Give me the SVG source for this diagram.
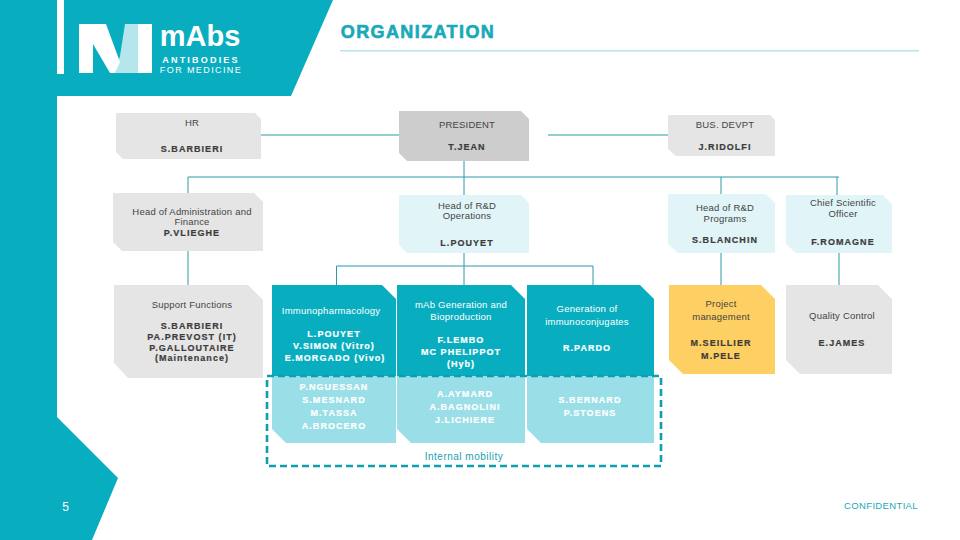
<svg xmlns="http://www.w3.org/2000/svg" width="960" height="540" viewBox="0 0 960 540">
<style>
text{font-family:"Liberation Sans",Arial,sans-serif;text-anchor:middle}
.l{font-size:9.5px;fill:#444;letter-spacing:.2px}
.n{font-size:9px;font-weight:700;fill:#3c3c3c;letter-spacing:1.05px;stroke:#3c3c3c;stroke-width:.2px}
.w{font-size:9.5px;fill:#fff;letter-spacing:.25px}
.nw{font-size:9px;font-weight:700;fill:#fff;letter-spacing:1.05px;stroke:#fff;stroke-width:.2px}
.g{fill:#e5e5e5}.d{fill:#cecdce}.p{fill:#e1f4f7}.t{fill:#08aec0}.a{fill:#9adfe7}.y{fill:#fecf63}
#connectors path{fill:none;stroke:#2a9aa6;stroke-width:1}
</style>
<rect width="960" height="540" fill="#fff"/>
<g id="background">
<path d="M0 0H333L291 96H57V417L118 478L92 540H0Z" fill="#08aec0"/>
<rect x="57" y="0" width="7" height="74" fill="#fff"/>
<rect x="340" y="50" width="579" height="1.5" fill="#b5e6ec"/>
</g>
<g id="logo">
<path d="M125 24H138V73H115L120 56Z" fill="#b5e6ec"/>
<path d="M79 24H106L120 62L115 73H110L93 44V73H79Z" fill="#fff"/>
<rect x="138" y="24" width="14" height="49" fill="#fff"/>
<text x="200" y="46" style="font-size:29px;font-weight:700;fill:#fff">mAbs</text>
<text x="201" y="63" style="font-size:9px;font-weight:700;fill:#fff;letter-spacing:2.2px">ANTIBODIES</text>
<text x="201" y="73" style="font-size:9px;fill:#fff;letter-spacing:1.4px">FOR MEDICINE</text>
</g>
<text id="title" x="418" y="38" style="font-size:18px;font-weight:700;fill:#19a9b9;stroke:#19a9b9;stroke-width:.6px;letter-spacing:1.4px">ORGANIZATION</text>
<g id="connectors">
<path d="M260 135H400M548 135H668M464 160V195M188 177H839M188 177V193M721 177V195M837 177V195M188 251V285M464 252V285M336.500 266H593M336.500 266V285M593 266V285M721 253V285M839 252V285"/>
</g>
<g id="hr"><path class="g" d="M116 113H255L261 119V159H123L116 152Z"/><text class="l" x="192" y="125.500">HR</text><text class="n" x="192" y="151.500">S.BARBIERI</text></g>
<g id="president"><path class="d" d="M399 111H521L529 119V161H407L399 153Z"/><text class="l" x="467" y="127.500">PRESIDENT</text><text class="n" x="467" y="149.500">T.JEAN</text></g>
<g id="busdevpt"><path class="g" d="M668 115H770L775 120V156H676L668 149Z"/><text class="l" x="725" y="127.500">BUS. DEVPT</text><text class="n" x="725" y="149.500">J.RIDOLFI</text></g>
<g id="admin"><path class="g" d="M113 193H254L263 202V251H122L113 242Z"/><text class="l" x="192" y="214.500">Head of Administration and</text><text class="l" x="192" y="224.500">Finance</text><text class="n" x="192" y="235.500">P.VLIEGHE</text></g>
<g id="rdops"><path class="p" d="M399 195H521L529 203V253H407L399 245Z"/><text class="l" x="467" y="208.500">Head of R&amp;D</text><text class="l" x="467" y="218.500">Operations</text><text class="n" x="467" y="245.500">L.POUYET</text></g>
<g id="rdprog"><path class="p" d="M668 194H766L775 203V253H678L668 244Z"/><text class="l" x="725" y="210.500">Head of R&amp;D</text><text class="l" x="725" y="221.500">Programs</text><text class="n" x="725" y="242.500">S.BLANCHIN</text></g>
<g id="cso"><path class="p" d="M786 195H883L892 204V253H796L786 244Z"/><text class="l" x="843" y="205.500">Chief Scientific</text><text class="l" x="843" y="216.500">Officer</text><text class="n" x="843" y="244.500">F.ROMAGNE</text></g>
<g id="support"><path class="g" d="M114 285H248L263 300V378H128L114 363Z"/><text class="l" x="192" y="307.500">Support Functions</text><text class="n" x="192" y="329">S.BARBIERI</text><text class="n" x="192" y="339.500">PA.PREVOST (IT)</text><text class="n" x="192" y="350.500">P.GALLOUTAIRE</text><text class="n" x="192" y="360.500">(Maintenance)</text></g>
<g id="immuno"><path class="t" d="M272 285H382L396 299V376H272Z"/><path class="a" d="M272 376H396V443H286L272 429Z"/><text class="w" x="331" y="313.500">Immunopharmacology</text><text class="nw" x="334" y="336.500">L.POUYET</text><text class="nw" x="334" y="348.500">V.SIMON (Vitro)</text><text class="nw" x="335" y="360.500">E.MORGADO (Vivo)</text><text class="nw" x="334" y="389.500">P.NGUESSAN</text><text class="nw" x="334" y="402.500">S.MESNARD</text><text class="nw" x="334" y="415.500">M.TASSA</text><text class="nw" x="334" y="428.500">A.BROCERO</text></g>
<g id="mabgen"><path class="t" d="M397 285H511L525 299V376H397Z"/><path class="a" d="M397 376H525V443H411L397 429Z"/><text class="w" x="461" y="307.500">mAb Generation and</text><text class="w" x="461" y="319.500">Bioproduction</text><text class="nw" x="461" y="342.500">F.LEMBO</text><text class="nw" x="461" y="354.500">MC PHELIPPOT</text><text class="nw" x="461" y="366.500">(Hyb)</text><text class="nw" x="465" y="396.500">A.AYMARD</text><text class="nw" x="465" y="409.500">A.BAGNOLINI</text><text class="nw" x="465" y="422.500">J.LICHIERE</text></g>
<g id="conj"><path class="t" d="M527 285H640L654 299V376H527Z"/><path class="a" d="M527 376H654V443H541L527 429Z"/><text class="w" x="587" y="311.500">Generation of</text><text class="w" x="587" y="324.500">immunoconjugates</text><text class="nw" x="587" y="350.500">R.PARDO</text><text class="nw" x="590" y="402.500">S.BERNARD</text><text class="nw" x="590" y="415.500">P.STOENS</text></g>
<g id="project"><path class="y" d="M669 285H761L775 299V374H683L669 360Z"/><text class="l" x="721" y="306.500">Project</text><text class="l" x="721" y="319.500">management</text><text class="n" x="721" y="345.500">M.SEILLIER</text><text class="n" x="721" y="358.500">M.PELE</text></g>
<g id="quality"><path class="g" d="M786 285H878L892 299V374H800L786 360Z"/><text class="l" x="842" y="318.500">Quality Control</text><text class="n" x="842" y="345.500">E.JAMES</text></g>
<rect id="mobility" x="267" y="376" width="394" height="90" fill="none" stroke="#0b9fb0" stroke-width="2.600" stroke-dasharray="7 4"/>
<text x="464" y="459.500" style="font-size:10px;fill:#19a0b0;letter-spacing:.5px">Internal mobility</text>
<text x="65.500" y="511" style="font-size:12px;fill:#fff">5</text>
<text x="881" y="508.500" style="font-size:9.500px;fill:#19a9b9;letter-spacing:.35px">CONFIDENTIAL</text>
</svg>
